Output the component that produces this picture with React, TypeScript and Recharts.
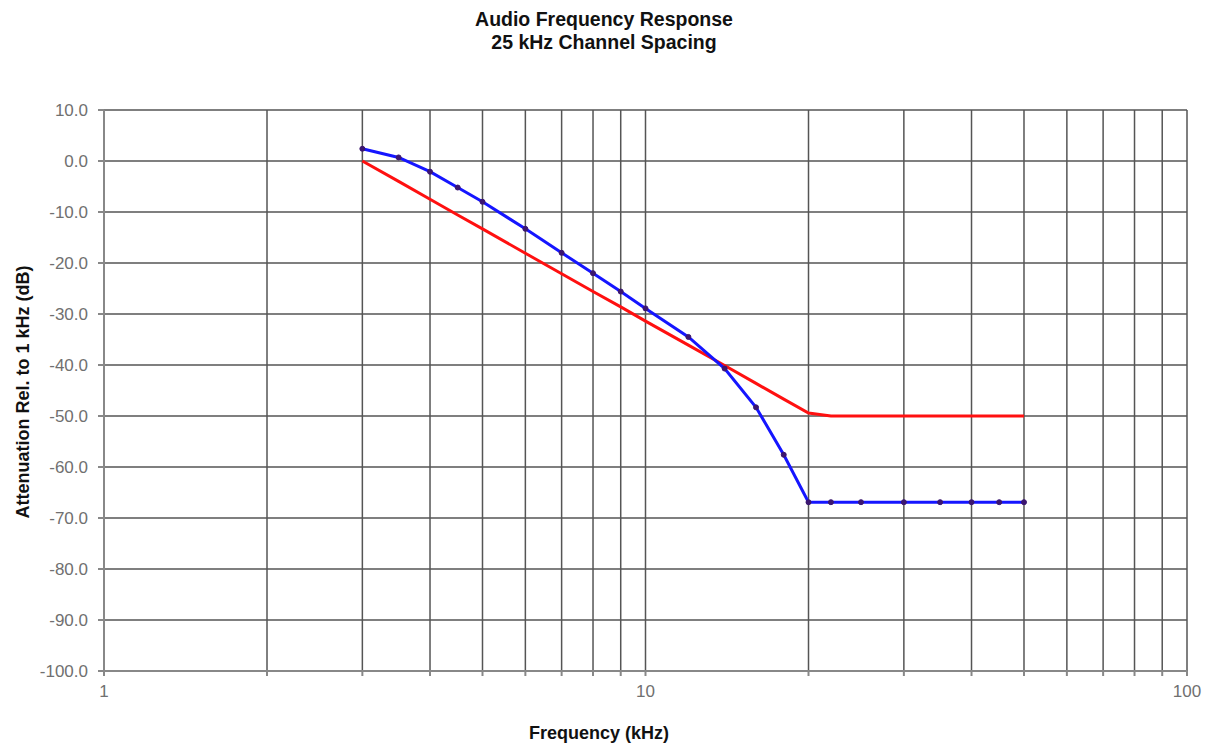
import React from "react";
import {
  LineChart, Line, XAxis, YAxis, CartesianGrid,
} from "recharts";

// frequencies in kHz (log axis)
const freqs = [3, 3.5, 4, 4.5, 5, 6, 7, 8, 9, 10, 12, 14, 16, 18, 20, 22, 25, 30, 35, 40, 45, 50];
// measured response (blue, with markers)
const measured = [2.4, 0.7, -2.1, -5.2, -8.0, -13.3, -18.0, -22.0, -25.6, -28.9, -34.5, -40.7, -48.3, -57.6, -66.9, -66.9, -66.9, -66.9, -66.9, -66.9, -66.9, -66.9];
// limit mask (red)
const limit = [0, -4.0, -7.5, -10.6, -13.3, -18.1, -22.1, -25.6, -28.6, -31.4, -36.1, -40.1, -43.6, -46.7, -49.4, -50.0, -50.0, -50.0, -50.0, -50.0, -50.0, -50.0];

const xTicks = [1, 2, 3, 4, 5, 6, 7, 8, 9, 10, 20, 30, 40, 50, 60, 70, 80, 90, 100];
const xLabels = [1, 10, 100];
const yTicks = [-100, -90, -80, -70, -60, -50, -40, -30, -20, -10, 0, 10];

const data = freqs.map((f, i) => ({ f, measured: measured[i], limit: limit[i] }));

const tickStyle = { fontSize: 17, fill: "#707070", fontFamily: "Arial, 'Liberation Sans', sans-serif" };

export default function App() {
  return (
    <div
      style={{
        position: "absolute", left: 0, top: 0, width: 1208, height: 748,
        background: "#fff", fontFamily: "Arial, 'Liberation Sans', sans-serif",
      }}
    >
      <div style={{ position: "absolute", left: 0, width: 1208, top: 8, textAlign: "center", fontWeight: "bold", fontSize: 19.5, lineHeight: "23px", color: "#111" }}>
        Audio Frequency Response<br />25 kHz Channel Spacing
      </div>
      <LineChart width={1208} height={748} data={data} margin={{ top: 110, right: 21, left: 0, bottom: 0 }}>
        <CartesianGrid stroke="#555" strokeWidth={1.5} />
        <XAxis
          dataKey="f"
          type="number"
          scale="log"
          domain={[1, 100]}
          ticks={xTicks}
          tickFormatter={(v) => (xLabels.includes(v) ? String(v) : "")}
          tick={tickStyle}
          tickSize={5}
          tickMargin={9}
          stroke="#888"
          strokeWidth={2}
          height={77}
          allowDataOverflow
        />
        <YAxis
          type="number"
          domain={[-100, 10]}
          ticks={yTicks}
          tickFormatter={(v) => v.toFixed(1)}
          tick={tickStyle}
          tickSize={6}
          tickMargin={10}
          stroke="#888"
          strokeWidth={2}
          width={104}
        />
        <Line
          dataKey="limit"
          type="linear"
          stroke="#ff1010"
          strokeWidth={3}
          dot={false}
          isAnimationActive={false}
        />
        <Line
          dataKey="measured"
          type="linear"
          stroke="#1515ff"
          strokeWidth={3}
          dot={{ r: 2.5, fill: "#3b1670", stroke: "#3b1670", strokeWidth: 1 }}
          isAnimationActive={false}
        />
      </LineChart>
      <div
        style={{
          position: "absolute", left: 23, top: 392, transform: "translate(-50%, -50%) rotate(-90deg)",
          whiteSpace: "nowrap", fontWeight: "bold", fontSize: 18, color: "#111",
        }}
      >
        Attenuation Rel. to 1 kHz (dB)
      </div>
      <div
        style={{
          position: "absolute", left: 0, width: 1198, top: 723, textAlign: "center",
          fontWeight: "bold", fontSize: 18, color: "#111",
        }}
      >
        Frequency (kHz)
      </div>
    </div>
  );
}
